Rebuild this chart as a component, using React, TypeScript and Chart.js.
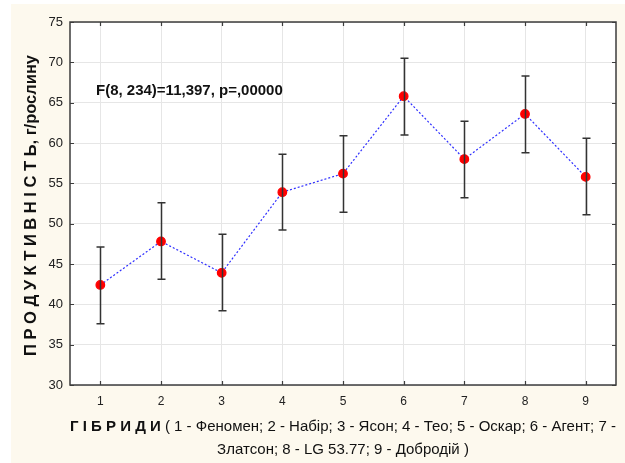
import React, { useEffect, useRef } from "react";
import { Chart, registerables } from "chart.js";

Chart.register(...registerables);

// Hybrid numbers on the x axis
const hybrids = [1, 2, 3, 4, 5, 6, 7, 8, 9];
// Mean productivity, g/plant
const means = [42.4, 47.8, 43.9, 53.9, 56.2, 65.8, 58.0, 63.6, 55.8];
// Confidence interval bounds
const upper = [47.1, 52.6, 48.7, 58.6, 60.9, 70.5, 62.7, 68.3, 60.6];
const lower = [37.6, 43.1, 39.2, 49.2, 51.4, 61.0, 53.2, 58.8, 51.1];
// Axis ticks
const yTicks = [30, 35, 40, 45, 50, 55, 60, 65, 70, 75];

const statText = "F(8, 234)=11,397, p=,00000";
const yTitle = "П Р О Д У К Т И В Н І С Т Ь, г/рослину";
const xTitleBold = "Г І Б Р И Д И";
const xTitleLine1 = " ( 1 - Феномен; 2 - Набір; 3 - Ясон; 4 - Тео; 5 - Оскар; 6 - Агент; 7 -";
const xTitleLine2 = "Златсон; 8 - LG 53.77; 9 - Добродій )";

const W = 625;
const H = 463;
const SANS = "'Liberation Sans', Arial, sans-serif";

const decorPlugin = {
  id: "decor",
  beforeDraw(chart: any) {
    const { ctx, chartArea: a } = chart;
    ctx.save();
    ctx.fillStyle = "#ffffff";
    ctx.fillRect(0, 0, W, H);
    ctx.fillStyle = "#fdf9ee";
    ctx.fillRect(11, 4, W - 11, H - 4);
    ctx.fillStyle = "#ffffff";
    ctx.fillRect(a.left, a.top, a.right - a.left, a.bottom - a.top);
    ctx.restore();
  },
  afterDatasetsDraw(chart: any) {
    const { ctx } = chart;
    const xs = chart.scales.x;
    const ys = chart.scales.y;
    ctx.save();
    // error bars
    ctx.strokeStyle = "#333333";
    ctx.lineWidth = 1.5;
    hybrids.forEach((h, i) => {
      const x = Math.round(xs.getPixelForValue(h)) + 0.5;
      const yt = ys.getPixelForValue(upper[i]);
      const yb = ys.getPixelForValue(lower[i]);
      ctx.beginPath();
      ctx.moveTo(x, yt);
      ctx.lineTo(x, yb);
      ctx.moveTo(x - 4, yt);
      ctx.lineTo(x + 4, yt);
      ctx.moveTo(x - 4, yb);
      ctx.lineTo(x + 4, yb);
      ctx.stroke();
    });
    ctx.restore();
  },
  afterDraw(chart: any) {
    const { ctx, chartArea: a } = chart;
    const xs = chart.scales.x;
    const ys = chart.scales.y;
    ctx.save();
    // frame
    ctx.strokeStyle = "#3c3c3c";
    ctx.lineWidth = 1.5;
    ctx.strokeRect(a.left, a.top, a.right - a.left, a.bottom - a.top);
    // inward ticks
    ctx.lineWidth = 1.2;
    ctx.beginPath();
    hybrids.forEach((h) => {
      const x = Math.round(xs.getPixelForValue(h)) + 0.5;
      ctx.moveTo(x, a.bottom);
      ctx.lineTo(x, a.bottom - 4);
      ctx.moveTo(x, a.top);
      ctx.lineTo(x, a.top + 4);
    });
    yTicks.forEach((v) => {
      const y = Math.round(ys.getPixelForValue(v)) + 0.5;
      ctx.moveTo(a.left, y);
      ctx.lineTo(a.left + 4, y);
      ctx.moveTo(a.right, y);
      ctx.lineTo(a.right - 4, y);
    });
    ctx.stroke();

    // statistics annotation
    ctx.fillStyle = "#111111";
    ctx.font = `bold 15px ${SANS}`;
    ctx.textBaseline = "middle";
    ctx.textAlign = "left";
    ctx.fillText(statText, a.left + 26, a.top + 69);

    // y title
    ctx.save();
    ctx.translate(31, (a.top + a.bottom) / 2 + 2);
    ctx.rotate(-Math.PI / 2);
    ctx.font = `bold 16.5px ${SANS}`;
    ctx.textAlign = "center";
    ctx.textBaseline = "middle";
    ctx.fillText(yTitle, 0, 0);
    ctx.restore();

    // x title (two centered lines, first one begins in bold)
    const cx = (a.left + a.right) / 2;
    ctx.textBaseline = "middle";
    ctx.textAlign = "left";
    ctx.font = `bold 15px ${SANS}`;
    const wb = ctx.measureText(xTitleBold).width;
    ctx.font = `15px ${SANS}`;
    const w1 = ctx.measureText(xTitleLine1).width;
    const start = cx - (wb + w1) / 2;
    ctx.font = `bold 15px ${SANS}`;
    ctx.fillText(xTitleBold, start, 427);
    ctx.font = `15px ${SANS}`;
    ctx.fillText(xTitleLine1, start + wb, 427);
    ctx.textAlign = "center";
    ctx.fillText(xTitleLine2, cx, 450);
    ctx.restore();
  },
};

export default function App() {
  const ref = useRef<HTMLCanvasElement>(null);

  useEffect(() => {
    if (!ref.current) return;
    const chart = new Chart(ref.current, {
      type: "line",
      data: {
        datasets: [
          {
            data: hybrids.map((h, i) => ({ x: h, y: means[i] })),
            borderColor: "#2f2fff",
            borderWidth: 1.2,
            borderDash: [2, 2],
            pointBackgroundColor: "#ff0000",
            pointBorderColor: "#ff0000",
            pointRadius: 4.3,
            tension: 0,
          },
        ],
      },
      options: {
        responsive: false,
        animation: false,
        events: [],
        layout: { padding: { left: 0, top: 22, right: 9, bottom: 0 } },
        plugins: {
          legend: { display: false },
          tooltip: { enabled: false },
        },
        scales: {
          x: {
            type: "linear",
            min: 0.5,
            max: 9.5,
            afterBuildTicks: (s: any) => {
              s.ticks = hybrids.map((v) => ({ value: v }));
            },
            afterFit: (s: any) => {
              s.height = 78;
            },
            grid: { color: "#e6e6e6", lineWidth: 1, drawTicks: false },
            border: { display: false },
            ticks: {
              color: "#222222",
              font: { family: SANS, size: 12 },
              padding: 9,
            },
          },
          y: {
            type: "linear",
            min: 30,
            max: 75,
            afterBuildTicks: (s: any) => {
              s.ticks = yTicks.map((v) => ({ value: v }));
            },
            afterFit: (s: any) => {
              s.width = 70;
            },
            grid: { color: "#e6e6e6", lineWidth: 1, drawTicks: false },
            border: { display: false },
            ticks: {
              color: "#222222",
              font: { family: SANS, size: 13 },
              padding: 7,
            },
          },
        },
      },
      plugins: [decorPlugin],
    });
    return () => chart.destroy();
  }, []);

  return (
    <div style={{ position: "absolute", left: 0, top: 0, width: W, height: H }}>
      <canvas ref={ref} width={W} height={H} style={{ display: "block" }} />
    </div>
  );
}
